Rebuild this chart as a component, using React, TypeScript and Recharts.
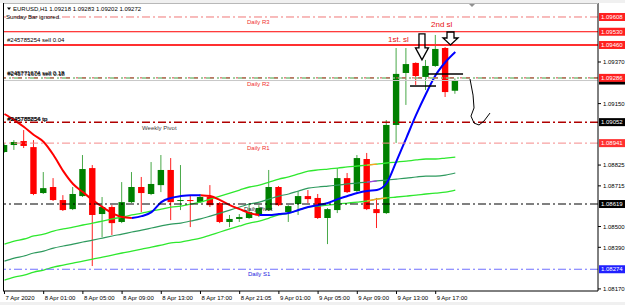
import React from 'react';
import { ComposedChart, Bar, Line, XAxis, YAxis, ReferenceLine, ReferenceDot } from 'recharts';

const FONT = '"Liberation Sans", Arial, sans-serif';

// ---- EURUSD H1 candles (7 Apr 21:00 .. 9 Apr 19:00) ----
const opens = [1.08894,1.08931,1.08952,1.08920,1.08677,1.08709,1.08640,1.08592,1.08661,1.08809,1.08566,1.08603,1.08524,1.08629,1.08709,1.08672,1.08719,1.08799,1.08635,1.08640,1.08629,1.08656,1.08624,1.08524,1.08540,1.08545,1.08561,1.08587,1.08709,1.08576,1.08619,1.08661,1.08651,1.08545,1.08587,1.08756,1.08688,1.08857,1.08592,1.08571,1.09037,1.09312,1.09365,1.09291,1.09349,1.09444,1.09218];
const highs = [1.08942,1.08957,1.09010,1.08957,1.08788,1.08756,1.08666,1.08709,1.08878,1.08825,1.08656,1.08613,1.08735,1.08788,1.08762,1.08841,1.08878,1.08862,1.08825,1.08666,1.08672,1.08719,1.08629,1.08561,1.08566,1.08624,1.08613,1.08799,1.08714,1.08613,1.08688,1.08693,1.08672,1.08598,1.08809,1.08783,1.08878,1.08889,1.08651,1.09063,1.09444,1.09444,1.09368,1.09381,1.09513,1.09449,1.09283];
const lows = [1.08889,1.08905,1.08915,1.08666,1.08672,1.08635,1.08582,1.08587,1.08656,1.08291,1.08444,1.08455,1.08518,1.08624,1.08576,1.08666,1.08682,1.08534,1.08587,1.08497,1.08624,1.08603,1.08518,1.08497,1.08524,1.08540,1.08550,1.08582,1.08608,1.08524,1.08561,1.08624,1.08540,1.08407,1.08571,1.08677,1.08682,1.08587,1.08492,1.08566,1.08942,1.09143,1.09248,1.09222,1.09344,1.09185,1.09202];
const closes = [1.08931,1.08947,1.08926,1.08672,1.08703,1.08640,1.08587,1.08672,1.08804,1.08561,1.08603,1.08518,1.08629,1.08709,1.08677,1.08725,1.08799,1.08629,1.08640,1.08635,1.08656,1.08613,1.08524,1.08540,1.08550,1.08576,1.08598,1.08709,1.08613,1.08608,1.08661,1.08645,1.08545,1.08592,1.08756,1.08682,1.08862,1.08592,1.08571,1.09037,1.09307,1.09359,1.09296,1.09349,1.09439,1.09211,1.09272];

// ---- moving average (red when falling, blue when rising) ----
const N = null;
const maFalling = [1.09095,1.09063,1.09026,1.08984,1.08947,1.08878,1.08793,1.08725,1.08682,1.08640,1.08603,1.08571,1.08550,1.08545,N,N,N,N,N,N,1.08666,1.08661,1.08640,1.08613,1.08592,1.08571,1.08561,N,N,N,N,N,N,N,N,N,N,N,N,N,N,N,N,N,N,N,N];
const maRising = [N,N,N,N,N,N,N,N,N,N,N,N,N,1.08545,1.08555,1.08576,1.08629,1.08651,1.08661,1.08666,1.08666,N,N,N,N,N,1.08561,1.08561,1.08566,1.08571,1.08587,1.08603,1.08613,1.08624,1.08645,1.08661,1.08677,1.08688,1.08693,1.08730,1.08846,1.08968,1.09090,1.09201,1.09301,1.09370,1.09423];

// ---- envelope bands ----
const envUpper = [1.08407,1.08423,1.08434,1.08450,1.08460,1.08476,1.08487,1.08497,1.08508,1.08518,1.08529,1.08540,1.08550,1.08561,1.08571,1.08582,1.08592,1.08603,1.08608,1.08619,1.08629,1.08645,1.08661,1.08677,1.08693,1.08709,1.08719,1.08735,1.08751,1.08762,1.08778,1.08793,1.08799,1.08804,1.08809,1.08815,1.08820,1.08825,1.08830,1.08836,1.08841,1.08846,1.08852,1.08857,1.08857,1.08862,1.08867];
const envMiddle = [1.08317,1.08333,1.08344,1.08360,1.08370,1.08386,1.08397,1.08407,1.08418,1.08428,1.08439,1.08450,1.08460,1.08471,1.08481,1.08492,1.08503,1.08513,1.08518,1.08529,1.08540,1.08555,1.08571,1.08587,1.08603,1.08619,1.08629,1.08645,1.08661,1.08672,1.08688,1.08703,1.08709,1.08714,1.08719,1.08725,1.08730,1.08735,1.08741,1.08746,1.08751,1.08756,1.08762,1.08767,1.08767,1.08772,1.08783];
const envLower = [1.08217,1.08233,1.08243,1.08259,1.08270,1.08285,1.08296,1.08307,1.08317,1.08328,1.08338,1.08349,1.08360,1.08370,1.08381,1.08391,1.08402,1.08413,1.08418,1.08428,1.08439,1.08455,1.08471,1.08487,1.08503,1.08518,1.08529,1.08545,1.08561,1.08571,1.08587,1.08603,1.08608,1.08613,1.08619,1.08624,1.08629,1.08635,1.08645,1.08651,1.08656,1.08661,1.08666,1.08672,1.08677,1.08682,1.08693];
const markUpperIdx = [37, 38];
const markMiddleIdx = [37, 38];
const markLowerIdx = [37, 38, 39];

// ---- axes ----
const xTickIndex = [0, 4, 8, 12, 16, 20, 24, 28, 32, 36, 40, 44];
const xTickLabels = ['7 Apr 2020','8 Apr 01:00','8 Apr 05:00','8 Apr 09:00','8 Apr 13:00','8 Apr 17:00','8 Apr 21:05','9 Apr 01:00','9 Apr 05:00','9 Apr 09:00','9 Apr 13:00','9 Apr 17:00'];
const yTicks = [1.0817, 1.0839, 1.085, 1.08715, 1.08825, 1.0915, 1.0937];

// ---- levels ----
const levelR3 = 1.09608;
const level2ndSl = 1.0953;
const level1stSl = 1.0946;
const levelR2 = 1.09286;
const levelBid = 1.09272;
const levelWeeklyPivot = 1.09052;
const levelR1 = 1.08941;
const levelDailyPivot = 1.08619;
const levelS1 = 1.08274;

// ---- hand-drawn annotations (bar index, price) ----
const slLineLowIdx = [41.38, 44.03];
const slLineLowPrice = 1.09243;
const slLineHighIdx = [43.21, 46.79];
const slLineHighPrice = 1.09307;
const curveIdx = [47.5, 47.81, 47.91, 47.6, 47.91, 48.42, 48.93, 49.54];
const curvePrice = [1.0928, 1.09195, 1.09127, 1.09084, 1.09047, 1.09037, 1.09058, 1.091];
const arrow1 = { i: 42.6, p: 1.09381 };
const arrow2 = { i: 45.51, p: 1.0946 };
const text1stSl = { i: 39.13, p: 1.09476 };
const text2ndSl = { i: 43.52, p: 1.09553 };

const data = opens.map((o, i) => ({
  i,
  o,
  h: highs[i],
  l: lows[i],
  c: closes[i],
  maDn: maFalling[i],
  maUp: maRising[i],
  eu: envUpper[i],
  em: envMiddle[i],
  el: envLower[i],
  euM: markUpperIdx.includes(i) ? envUpper[i] : null,
  emM: markMiddleIdx.includes(i) ? envMiddle[i] : null,
  elM: markLowerIdx.includes(i) ? envLower[i] : null,
}));

const Candle = (props: any) => {
  const { x, y, width, height, payload } = props;
  if (!payload || height == null) return <g />;
  const { o, h, l, c } = payload;
  const top = Math.min(y, y + height);
  const hh = Math.abs(height);
  const k = hh / (h - l);
  const cx = x + width / 2;
  const up = c >= o;
  const bTop = top + (h - Math.max(o, c)) * k;
  const bBot = top + (h - Math.min(o, c)) * k;
  const bodyColor = up ? '#008000' : '#ff0000';
  const wickColor = up ? '#48a848' : '#ff2020';
  return (
    <g>
      <line x1={cx} x2={cx} y1={top} y2={top + hh} stroke={wickColor} strokeWidth={1} />
      <rect x={cx - 3.2} y={bTop} width={6.4} height={Math.max(1, bBot - bTop)} fill={bodyColor} />
    </g>
  );
};

const XTick = (props: any) => {
  const { x, y, payload } = props;
  const idx = xTickIndex.indexOf(payload.value);
  return (
    <text x={x + 1} y={y + 4} fontSize={6} fontFamily={FONT} fill="#000">
      {idx >= 0 ? xTickLabels[idx] : ''}
    </text>
  );
};

const YTick = (props: any) => {
  const { x, y, payload } = props;
  return (
    <text x={x} y={y + 2.2} fontSize={6} fontFamily={FONT} fill="#000">
      {Number(payload.value).toFixed(5)}
    </text>
  );
};

type LabelText = { text: string; dx: number; dy: number; color: string; size?: number };

const makeLabel = (price: number, box: string | null, texts: LabelText[], boxText = true) => (props: any) => {
  const vb = props.viewBox || {};
  const y = vb.y;
  const x0 = vb.x;
  const x1 = vb.x + vb.width;
  return (
    <g>
      {texts.map((t, k) => (
        <text key={k} x={x0 + t.dx} y={y + t.dy} fontSize={t.size || 6} fontFamily={FONT} fill={t.color}>
          {t.text}
        </text>
      ))}
      {box && (
        <g>
          <rect x={x1 + 1} y={y - 4} width={26} height={8} fill={box} />
          {boxText && (
            <text x={x1 + 3} y={y + 2.2} fontSize={6} fontFamily={FONT} fill="#fff">
              {price.toFixed(5)}
            </text>
          )}
        </g>
      )}
    </g>
  );
};

const DownArrow = (sw: number, sh: number, hw: number, hhd: number) => (props: any) => {
  const { cx, cy } = props;
  const tip = cy;
  const d = `M${cx - sw / 2},${tip - hhd - sh} L${cx + sw / 2},${tip - hhd - sh} L${cx + sw / 2},${tip - hhd} L${cx + hw / 2},${tip - hhd} L${cx},${tip} L${cx - hw / 2},${tip - hhd} L${cx - sw / 2},${tip - hhd} Z`;
  return <path d={d} fill="none" stroke="#000" strokeWidth={1.3} />;
};

const TextDot = (text: string, color: string, size: number) => (props: any) => (
  <text x={props.cx} y={props.cy} fontSize={size} fontFamily={FONT} fill={color}>
    {text}
  </text>
);

const DASH = '8 3 2 3';

export default function App() {
  const curveSegs = curveIdx.slice(1).map((ci, k) => [
    { x: curveIdx[k], y: curvePrice[k] },
    { x: ci, y: curvePrice[k + 1] },
  ]);
  return (
    <div style={{ position: 'absolute', left: 0, top: 0, width: 625, height: 305, background: '#fff', overflow: 'hidden' }}>
      <ComposedChart width={625} height={305} data={data} margin={{ top: 3, right: 0, bottom: 0, left: 3 }}>
        <XAxis
          dataKey="i"
          type="number"
          domain={[-0.15, 60.56]}
          allowDataOverflow
          ticks={xTickIndex}
          interval={0}
          height={14}
          axisLine={{ stroke: '#000' }}
          tickLine={{ stroke: '#000' }}
          tickSize={3}
          tick={<XTick />}
        />
        <YAxis
          orientation="right"
          type="number"
          domain={[1.08159, 1.09682]}
          allowDataOverflow
          ticks={yTicks}
          interval={0}
          width={27}
          axisLine={{ stroke: '#000' }}
          tickLine={{ stroke: '#000' }}
          tickSize={3}
          tick={<YTick />}
        />
        <Bar dataKey={(d: any) => [d.l, d.h]} barSize={7} shape={Candle} isAnimationActive={false} />
        <Line dataKey="eu" type="monotone" stroke="#2ee82e" strokeWidth={1.3} dot={false} isAnimationActive={false} />
        <Line dataKey="em" type="monotone" stroke="#2e9a5e" strokeWidth={1.2} dot={false} isAnimationActive={false} />
        <Line dataKey="el" type="monotone" stroke="#2ee82e" strokeWidth={1.3} dot={false} isAnimationActive={false} />
        <Line dataKey="euM" type="linear" stroke="#ffa020" strokeWidth={1.3} dot={false} isAnimationActive={false} />
        <Line dataKey="emM" type="linear" stroke="#a040e0" strokeWidth={1.3} dot={false} isAnimationActive={false} />
        <Line dataKey="elM" type="linear" stroke="#ffa020" strokeWidth={1.3} dot={false} isAnimationActive={false} />
        <Line dataKey="maDn" type="monotone" stroke="#ff0000" strokeWidth={2} dot={false} isAnimationActive={false} />
        <Line dataKey="maUp" type="monotone" stroke="#0000ff" strokeWidth={2} dot={false} isAnimationActive={false} />

        <ReferenceLine y={levelR3} stroke="#f07878" strokeDasharray={DASH} label={makeLabel(levelR3, '#ff2020', [{ text: 'Daily R3', dx: 244, dy: 7, color: '#f03030' }])} />
        <ReferenceLine y={level2ndSl} stroke="#ff0000" strokeWidth={1} label={makeLabel(level2ndSl, '#ff2020', [])} />
        <ReferenceLine y={level1stSl} stroke="#ff3030" strokeWidth={2} label={makeLabel(level1stSl, '#ff2020', [{ text: '#245785254 sell 0.04', dx: 4, dy: -2.5, color: '#000' }])} />
        <ReferenceLine y={levelBid} stroke="#c8c8c8" strokeWidth={1} label={makeLabel(levelBid, '#000', [], false)} />
        <ReferenceLine y={levelR2} stroke="#80c080" strokeWidth={1.5} strokeDasharray={DASH} label={makeLabel(levelR2, '#ff2020', [
          { text: '#245771674 sell 0.18', dx: 4, dy: -3, color: '#000' },
          { text: '#245771606 sell 0.18', dx: 4.5, dy: -2, color: '#000' },
          { text: 'Daily R2', dx: 244, dy: 8, color: '#f03030' },
        ])} />
        <ReferenceLine y={levelR2} stroke="#d04040" strokeWidth={1} strokeDasharray="4 4 2 6" />
        <ReferenceLine y={levelWeeklyPivot} stroke="#b00000" strokeWidth={1.5} strokeDasharray={DASH} label={makeLabel(levelWeeklyPivot, '#000', [
          { text: '#245785254 tp', dx: 4, dy: -1.5, color: '#000' },
          { text: '#245788856 tp', dx: 4.5, dy: -1, color: '#000' },
          { text: 'Weekly Pivot', dx: 139, dy: 8, color: '#404040' },
        ])} />
        <ReferenceLine y={levelR1} stroke="#f58a8a" strokeWidth={1} strokeDasharray={DASH} label={makeLabel(levelR1, '#ff3030', [{ text: 'Daily R1', dx: 244, dy: 7, color: '#f03030' }])} />
        <ReferenceLine y={levelDailyPivot} stroke="#000" strokeWidth={1} strokeDasharray={DASH} label={makeLabel(levelDailyPivot, '#000', [{ text: 'Daily Pivot', dx: 241, dy: 7, color: '#202020' }])} />
        <ReferenceLine y={levelS1} stroke="#7070ff" strokeWidth={1.2} strokeDasharray={DASH} label={makeLabel(levelS1, '#2020ff', [{ text: 'Daily S1', dx: 245, dy: 7, color: '#2020e0' }])} />

        <ReferenceLine segment={[{ x: slLineLowIdx[0], y: slLineLowPrice }, { x: slLineLowIdx[1], y: slLineLowPrice }]} stroke="#000" strokeWidth={1.5} />
        <ReferenceLine segment={[{ x: slLineHighIdx[0], y: slLineHighPrice }, { x: slLineHighIdx[1], y: slLineHighPrice }]} stroke="#000" strokeWidth={1.5} />
        {curveSegs.map((s, k) => (
          <ReferenceLine key={k} segment={s} stroke="#000" strokeWidth={1} />
        ))}
        <ReferenceDot x={arrow1.i} y={arrow1.p} r={0} shape={DownArrow(6, 14, 13, 12)} />
        <ReferenceDot x={arrow2.i} y={arrow2.p} r={0} shape={DownArrow(7, 6, 15, 7)} />
        <ReferenceDot x={text1stSl.i} y={text1stSl.p} r={0} shape={TextDot('1st. sl', '#e81010', 8)} />
        <ReferenceDot x={text2ndSl.i} y={text2ndSl.p} r={0} shape={TextDot('2nd sl', '#e81010', 8)} />
      </ComposedChart>
      <svg width={625} height={305} style={{ position: 'absolute', left: 0, top: 0, pointerEvents: 'none' }}>
        <rect x={0} y={0} width={625} height={3} fill="#f0f0f0" />
        <line x1={3} x2={598} y1={3.5} y2={3.5} stroke="#b8b8b8" strokeWidth={1} />
        <line x1={3.5} x2={3.5} y1={3} y2={291} stroke="#000" strokeWidth={1} />
        <rect x={0} y={302} width={625} height={3} fill="#f0f0f0" />
        <polygon points="469,4 475,4 472,7" fill="#909090" />
        <polygon points="7,7.5 11,7.5 9,10" fill="#000" />
        <text x={13} y={10.5} fontSize={6} fontFamily={FONT} fill="#000">EURUSD,H1  1.09218 1.09283 1.09202 1.09272</text>
        <text x={6} y={18.5} fontSize={6} fontFamily={FONT} fill="#000">Sunday Bar ignored.</text>
      </svg>
    </div>
  );
}
